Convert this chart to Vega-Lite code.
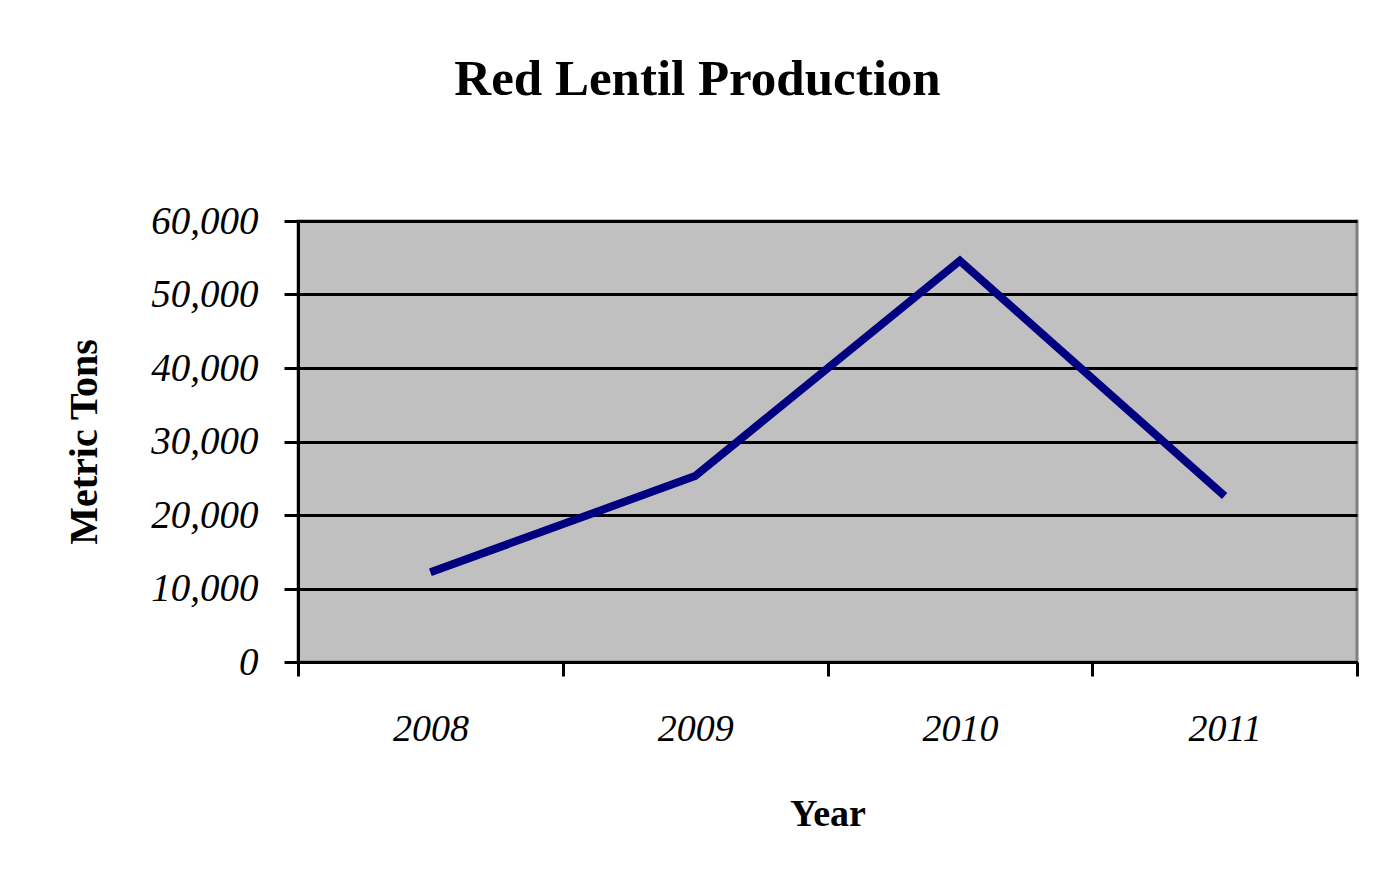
{
  "$schema": "https://vega.github.io/schema/vega-lite/v6.json",
  "width": 1059,
  "height": 441,
  "autosize": {"type": "none"},
  "padding": {"left": 298, "top": 221, "right": 18, "bottom": 225},
  "background": "white",
  "title": {
    "text": "Red Lentil Production",
    "font": "Liberation Serif",
    "fontSize": 51,
    "fontWeight": "bold",
    "color": "black",
    "anchor": "middle",
    "frame": "group",
    "dx": -130,
    "offset": 96
  },
  "data": {
    "values": [
      {"Year": "2008", "Tons": 12200},
      {"Year": "2009", "Tons": 25300},
      {"Year": "2010", "Tons": 54600},
      {"Year": "2011", "Tons": 22600}
    ]
  },
  "mark": {"type": "line", "color": "#000080", "strokeWidth": 8, "strokeCap": "butt", "strokeJoin": "miter"},
  "encoding": {
    "x": {
      "field": "Year",
      "type": "ordinal",
      "scale": {"type": "band", "paddingInner": 0, "paddingOuter": 0},
      "axis": {
        "title": "Year",
        "tickBand": "extent",
        "labelAngle": 0,
        "labelFont": "Liberation Serif",
        "labelFontStyle": "italic",
        "labelFontSize": 38,
        "labelColor": "black",
        "labelPadding": 34,
        "titleFont": "Liberation Serif",
        "titleFontWeight": "bold",
        "titleFontSize": 38,
        "titleColor": "black",
        "titlePadding": 47,
        "domainColor": "black",
        "domainWidth": 3,
        "tickColor": "black",
        "tickWidth": 3,
        "tickSize": 14,
        "grid": false
      }
    },
    "y": {
      "field": "Tons",
      "type": "quantitative",
      "scale": {"domain": [0, 60000], "nice": false},
      "axis": {
        "title": "Metric Tons",
        "values": [0, 10000, 20000, 30000, 40000, 50000, 60000],
        "format": ",d",
        "labelFont": "Liberation Serif",
        "labelFontStyle": "italic",
        "labelFontSize": 39,
        "labelColor": "black",
        "labelPadding": 26,
        "titleFont": "Liberation Serif",
        "titleFontWeight": "bold",
        "titleFontSize": 40,
        "titleColor": "black",
        "titlePadding": 46,
        "domainColor": "black",
        "domainWidth": 3,
        "tickColor": "black",
        "tickWidth": 3,
        "tickSize": 14,
        "grid": true,
        "gridColor": "black",
        "gridWidth": 3,
        "gridOpacity": 1
      }
    }
  },
  "config": {
    "view": {"fill": "#c0c0c0", "stroke": "#808080", "strokeWidth": 3}
  }
}
